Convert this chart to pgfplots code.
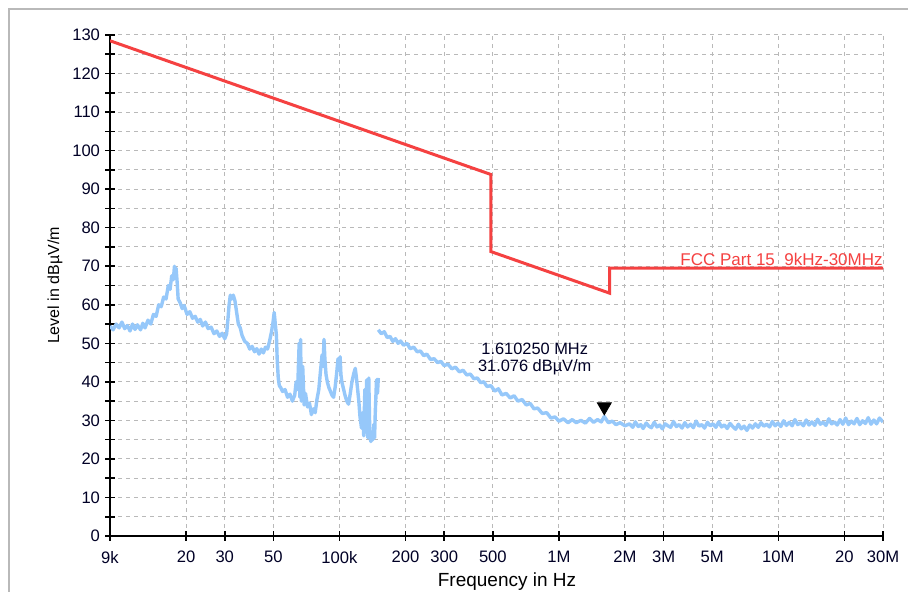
\documentclass[border=0pt]{standalone}
\usepackage{fontspec}
\setmainfont{Liberation Sans}
\usepackage{pgfplots}
\pgfplotsset{compat=1.18}
\definecolor{limred}{RGB}{245,65,65}
\definecolor{trace}{RGB}{150,200,250}
\definecolor{gridgray}{RGB}{185,185,185}
\begin{document}
\begin{tikzpicture}
\useasboundingbox (0,0) rectangle (454pt,296pt);
\fill[white] (0,0) rectangle (454pt,296pt);
\draw[gray!55, line width=0.9pt] (4.5pt,-2pt) -- (4.5pt,291.5pt) -- (460pt,291.5pt);
\begin{axis}[
  at={(55pt,28pt)}, anchor=south west,
  scale only axis, width=386.5pt, height=250.5pt,
  xmode=log, xmin=9000, xmax=3e7, ymin=0, ymax=130,
  axis x line*=bottom, axis y line*=left,
  every outer x axis line/.append style={-},
  every outer y axis line/.append style={-},
  axis line style={black, line width=0.9pt},
  xtick={9000,20000,30000,50000,100000,200000,300000,500000,1000000,2000000,3000000,5000000,10000000,20000000,30000000},
  xticklabels={9k,20,30,50,100k,200,300,500,1M,2M,3M,5M,10M,20,30M},
  xminorticks=false,
  ytick={0,10,...,130},
  minor ytick={5,15,...,125},
  grid=both,
  major grid style={gridgray, dash pattern=on 2pt off 2pt, line width=0.5pt},
  minor grid style={gridgray, dash pattern=on 2pt off 2pt, line width=0.5pt},
  tick align=center,
  major tick length=5pt, minor tick length=5pt,
  tick style={black, line width=0.8pt},
  ticklabel style={font=\fontsize{8.3}{9}\selectfont, text=black!85!blue},
  /pgf/number format/assume math mode=true,
  xticklabel style={yshift=-1.5pt},
  yticklabel style={xshift=1pt},
  xlabel={Frequency in Hz},
  ylabel={Level in dBµV/m},
  xlabel style={font=\fontsize{9.5}{10}\selectfont, at={(axis description cs:0.5136,-0.0918)}, anchor=center},
  ylabel style={font=\fontsize{8}{9}\selectfont, at={(axis description cs:-0.0712,0.5)}, anchor=center, rotate=0},
  clip=true,
]
% measured trace, part 1
\addplot[trace, line width=1.7pt, line join=round] coordinates {
(9000,54.5)(9300,53.5)(9600,55)(9900,54)(10200,55.5)(10500,53.8)(10800,54.6)(11100,53.2)
(11400,55)(11700,53.6)(12000,54.8)(12400,53.5)(12700,55.2)(13000,54)(13400,56)(13800,55)
(14200,57.5)(14600,57)(15000,60)(15400,59.5)(15800,62)(16200,61.5)(16600,65)(16900,64)
(17200,67.5)(17500,66.5)(17700,70)(17900,67)(18000,69.5)(18200,66)(18400,61.5)(18800,60.5)
(19200,59)(19600,59.8)(20200,57.5)(20800,58.2)(21400,56.5)(22000,57)(22600,55.5)(23200,56.2)
(23800,54.5)(24500,55.5)(25200,53.8)(26000,54.2)(26800,52.5)(27600,53.2)(28400,51.8)(29200,52.6)
(30000,51.2)(30600,52.5)(31000,56)(31400,60)(31800,62.5)(32300,61.5)(32800,62.5)(33400,61)
(34000,58)(34600,55)(35300,54)(36000,52)(37000,50.5)(38000,50)(39000,48.5)(40000,49.2)
(41000,47.8)(42000,48.6)(43000,47.2)(44000,48.5)(45000,47.5)(46000,49)(47000,48.5)(48000,50.5)
(49000,53)(49800,55.5)(50400,58)(51000,55)(51600,52)(52000,46)(52600,41)(53200,39)
(54000,38.5)(55000,37.5)(56500,38)(58000,36)(59500,36.8)(61000,35)(62500,36.5)(63500,40)
(64500,38)(65500,50)(66000,36)(66500,51)(67000,35)(68000,44)(69000,34)(70000,37)
(71500,33.5)(73000,34.5)(74500,31.5)(76000,33)(77500,32)(79000,35.5)(80500,38)(82000,43)
(83300,47)(84200,44)(85000,51)(85800,46)(86800,42)(88000,40)(89500,38.5)(91000,37.5)
(92500,36.5)(94000,36)(95500,38.5)(97000,42)(98500,46)(99500,43)(100700,46.5)(101500,42)
(102500,40)(104000,38.5)(106000,36.5)(108000,35)(110000,34.2)(112000,37)(114000,40)(116000,42)
(118000,43.5)(119500,41)(121000,38)(122500,35)(124000,31)(126000,28)(127500,32)(129000,26)
(130500,38)(131500,27)(133000,40.5)(134500,25.5)(136000,41)(137500,26)(139000,24.5)(140500,27)
(142000,25)(143500,29)(144500,25.5)(145600,32)(147500,40.5)(149000,37)(150300,41)
};
% measured trace, part 2
\addplot[trace, line width=1.7pt, line join=round] coordinates {
(150300,53.5)(155000,52.5)(160000,53)(165000,51.5)(170000,51.8)(175000,50.5)(180000,51.2)(185000,50)
(190000,50.6)(196000,49.5)(203000,50)(210000,48.6)(218000,49)(226000,47.8)(234000,48)(242000,46.8)
(250000,47.2)(260000,45.8)(270000,46)(280000,45)(290000,45.3)(300000,44.2)(312000,44.6)(325000,43.4)
(338000,43.8)(352000,42.6)(366000,43)(380000,41.8)(395000,42)(410000,40.8)(425000,41)(440000,39.8)
(455000,40)(470000,38.8)(490000,39)(510000,37.6)(530000,38.2)(550000,36.6)(575000,37)(600000,35.8)
(625000,36.4)(650000,35)(680000,35.4)(710000,34)(740000,34.4)(770000,33)(800000,33.2)(840000,31.8)
(880000,32)(920000,30.6)(960000,30.9)(1000000,29.8)(1050000,30.4)(1100000,29.4)(1150000,30.2)(1200000,29.4)
(1260000,30)(1320000,29.3)(1380000,30.5)(1440000,29.5)(1500000,30.2)(1560000,29.6)(1610000,31)(1680000,29.4)
(1750000,29.8)(1820000,28.9)(1900000,29.4)(2000000,28.6)(2100000,29.1)
(2170000,28.2)(2230000,29.6)(2300000,28.4)(2360000,28.9)(2420000,27.9)(2500000,29.3)(2570000,28.5)(2640000,28.1)
(2720000,29.5)(2800000,28.3)(2880000,28.8)(2960000,27.8)(3050000,29.1)(3140000,28.6)(3230000,28.2)(3330000,29.7)
(3430000,28.4)(3530000,28.9)(3640000,28.0)(3750000,29.4)(3860000,28.3)(3980000,29.0)(4100000,28.1)(4220000,29.8)
(4350000,28.5)(4480000,28.9)(4610000,28.0)(4750000,29.5)(4890000,28.6)(5040000,29.1)(5190000,28.2)(5350000,29.6)
(5510000,28.3)(5680000,28.8)(5850000,27.9)(6020000,29.2)(6200000,28.4)(6390000,27.7)(6580000,29.0)(6780000,27.8)
(6980000,28.5)(7190000,27.4)(7410000,28.8)(7630000,28.0)(7860000,29.1)(8100000,28.2)(8340000,29.4)(8590000,28.5)
(8850000,29.0)(9120000,28.3)(9390000,29.7)(9670000,28.6)(9960000,29.3)(10260000,28.4)(10570000,29.9)(10890000,28.7)
(11220000,29.5)(11560000,28.6)(11900000,30.2)(12260000,28.9)(12630000,29.4)(13010000,28.6)(13400000,30.1)(13800000,28.8)
(14220000,29.6)(14650000,28.7)(15090000,30.3)(15540000,29.0)(16000000,29.5)(16480000,28.7)(16980000,30.4)(17490000,29.1)
(18010000,29.6)(18550000,28.8)(19110000,30.2)(19680000,29.0)(20270000,30.6)(20880000,28.9)(21510000,29.8)(22150000,29.1)
(22820000,30.5)(23500000,28.9)(24210000,29.9)(24930000,29.2)(25680000,30.7)(26450000,29.0)(27240000,30.1)(28060000,29.1)
(28900000,30.6)(30000000,29.6)
};
% FCC Part 15 limit line
\addplot[limred, line width=1.5pt] coordinates {
(9000,128.5)(490000,93.8)(490000,73.8)(1705000,63.0)(1705000,69.5)(30000000,69.5)
};
% marker
\addplot[only marks, mark=triangle*, mark size=4pt, mark options={rotate=180, fill=black, draw=black}] coordinates {(1610250,33.5)};
\node[font=\fontsize{8.2}{8.6}\selectfont, align=center, text=black!85!blue] at (axis cs:776000,46) {1.610250 MHz\\31.076 dBµV/m};
\node[font=\fontsize{8.5}{9}\selectfont, text=limred, anchor=south east, inner sep=0pt, yshift=1pt] at (axis cs:30000000,69.5) {FCC Part 15\ \ 9kHz-30MHz};
\end{axis}
\end{tikzpicture}
\end{document}
